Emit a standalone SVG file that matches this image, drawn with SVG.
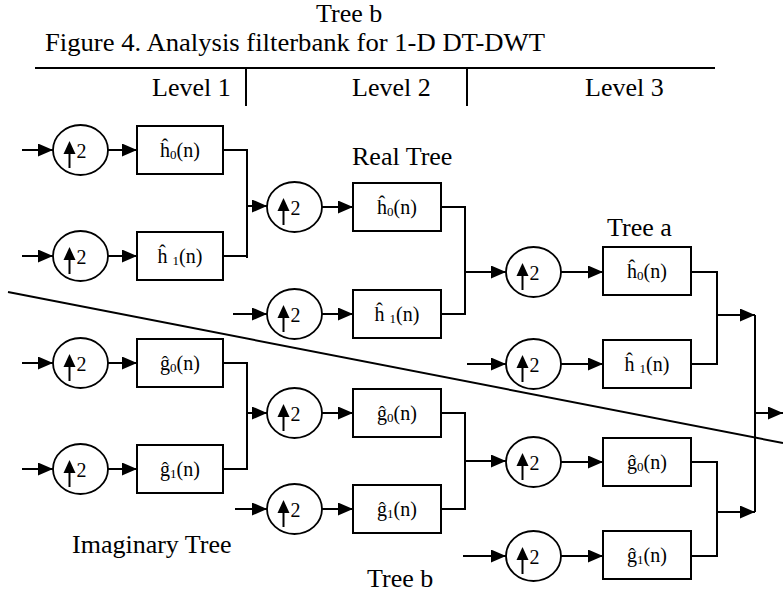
<svg xmlns="http://www.w3.org/2000/svg" width="783" height="594" viewBox="0 0 783 594">
  <style>
    text { font-family: "Liberation Serif", "Times New Roman", serif; fill: #000; }
    .title { font-size: 26px; }
    .lbl { font-size: 20px; text-anchor: middle; }
    .sub { font-size: 13px; }
    .two { font-size: 20px; }
    .box { fill: #fff; stroke: #000; stroke-width: 2; }
    .circ { fill: #fff; stroke: #000; stroke-width: 1.8; }
    .wire { fill: none; stroke: #000; stroke-width: 2; }
    .arr { fill: none; stroke: #000; stroke-width: 2; marker-end: url(#head); }
    .up { stroke: #000; stroke-width: 2; }
  </style>
  <defs>
    <marker id="head" markerUnits="userSpaceOnUse" markerWidth="16" markerHeight="14" refX="15" refY="6.5" orient="auto">
      <path d="M0,0 L15,6.5 L0,13 Z" fill="#000"/>
    </marker>
    <!-- upsampler symbol: ellipse, up arrow and the factor 2 -->
    <g id="ups">
      <ellipse class="circ" cx="0" cy="0" rx="27.5" ry="25"/>
      <line class="up" x1="-11" y1="18" x2="-11" y2="2"/>
      <path d="M-17,4 L-11,-9 L-5,4 Z" fill="#000"/>
      <text class="two" x="-4" y="8">2</text>
    </g>
  </defs>

  <!-- caption and level header -->
  <g id="header">
    <text class="title" x="316" y="22">Tree b</text>
    <text class="title" x="45" y="51" textLength="500" lengthAdjust="spacingAndGlyphs">Figure 4. Analysis filterbank for 1-D DT-DWT</text>
    <line class="wire" x1="35" y1="68" x2="715" y2="68"/>
    <line class="wire" x1="246" y1="68" x2="246" y2="106"/>
    <line class="wire" x1="467" y1="68" x2="467" y2="106"/>
    <text class="title" x="152" y="96">Level 1</text>
    <text class="title" x="352" y="96">Level 2</text>
    <text class="title" x="585" y="96">Level 3</text>
  </g>

  <!-- tree labels -->
  <g id="labels">
    <text class="title" x="352" y="165">Real Tree</text>
    <text class="title" x="607" y="236">Tree a</text>
    <text class="title" x="72" y="553">Imaginary Tree</text>
    <text class="title" x="367" y="587">Tree b</text>
  </g>

  <!-- divider between the two trees -->
  <line id="divider" class="wire" x1="8" y1="292" x2="783" y2="443"/>

  <!-- connectors -->
  <g id="connectors">
    <!-- level 1 inputs -->
    <path class="arr" d="M22,150 H53"/>
    <path class="arr" d="M22,256 H53"/>
    <path class="arr" d="M22,363 H53"/>
    <path class="arr" d="M22,469 H53"/>
    <!-- upsampler to filter, level 1 -->
    <path class="arr" d="M108,150 H137"/>
    <path class="arr" d="M108,256 H137"/>
    <path class="arr" d="M108,363 H137"/>
    <path class="arr" d="M108,469 H137"/>
    <!-- level 1 sums -->
    <path class="wire" d="M223,150 H247 M223,256 H247 M247,149 V258"/>
    <path class="arr" d="M247,206 H267"/>
    <path class="wire" d="M223,363 H247 M223,469 H247 M247,362 V470"/>
    <path class="arr" d="M247,413 H267"/>
    <!-- level 2 extra inputs -->
    <path class="arr" d="M233,314 H267"/>
    <path class="arr" d="M235,509 H267"/>
    <!-- upsampler to filter, level 2 -->
    <path class="arr" d="M322,207 H353"/>
    <path class="arr" d="M322,314 H353"/>
    <path class="arr" d="M322,413 H353"/>
    <path class="arr" d="M322,509 H353"/>
    <!-- level 2 sums -->
    <path class="wire" d="M441,207 H465 M441,314 H465 M465,206 V315"/>
    <path class="arr" d="M465,272 H506"/>
    <path class="wire" d="M441,413 H465 M441,509 H465 M465,412 V510"/>
    <path class="arr" d="M465,461 H506"/>
    <!-- level 3 extra inputs -->
    <path class="arr" d="M467,364 H506"/>
    <path class="arr" d="M463,556 H506"/>
    <!-- upsampler to filter, level 3 -->
    <path class="arr" d="M561,272 H603"/>
    <path class="arr" d="M561,364 H603"/>
    <path class="arr" d="M561,462 H603"/>
    <path class="arr" d="M561,556 H603"/>
    <!-- level 3 sums -->
    <path class="wire" d="M691,272 H717 M691,364 H717 M717,271 V365"/>
    <path class="arr" d="M717,315 H755"/>
    <path class="wire" d="M691,462 H717 M691,556 H717 M717,461 V557"/>
    <path class="arr" d="M717,512 H755"/>
    <!-- final combine -->
    <path class="wire" d="M755,315 V512"/>
    <path class="arr" d="M755,413 H783"/>
  </g>

  <!-- level 1 nodes -->
  <g id="u1a"><use href="#ups" x="80.5" y="150"/></g>
  <g id="f1a"><rect class="box" x="137" y="126" width="86" height="48"/><text class="lbl" x="180" y="157">ĥ<tspan class="sub" dy="2">0</tspan><tspan dy="-2">(n)</tspan></text></g>
  <g id="u1b"><use href="#ups" x="80.5" y="256"/></g>
  <g id="f1b"><rect class="box" x="137" y="232" width="86" height="48"/><text class="lbl" x="180" y="263">ĥ <tspan class="sub" dy="2">1</tspan><tspan dy="-2">(n)</tspan></text></g>
  <g id="u1c"><use href="#ups" x="80.5" y="363"/></g>
  <g id="f1c"><rect class="box" x="137" y="339" width="86" height="48"/><text class="lbl" x="180" y="370">ĝ<tspan class="sub" dy="2">0</tspan><tspan dy="-2">(n)</tspan></text></g>
  <g id="u1d"><use href="#ups" x="80.5" y="469"/></g>
  <g id="f1d"><rect class="box" x="137" y="445" width="86" height="48"/><text class="lbl" x="180" y="476">ĝ<tspan class="sub" dy="2">1</tspan><tspan dy="-2">(n)</tspan></text></g>

  <!-- level 2 nodes -->
  <g id="u2a"><use href="#ups" x="294.5" y="207"/></g>
  <g id="f2a"><rect class="box" x="353" y="183" width="88" height="48"/><text class="lbl" x="397" y="214">ĥ<tspan class="sub" dy="2">0</tspan><tspan dy="-2">(n)</tspan></text></g>
  <g id="u2b"><use href="#ups" x="294.5" y="314"/></g>
  <g id="f2b"><rect class="box" x="353" y="290" width="88" height="48"/><text class="lbl" x="397" y="321">ĥ <tspan class="sub" dy="2">1</tspan><tspan dy="-2">(n)</tspan></text></g>
  <g id="u2c"><use href="#ups" x="294.5" y="413"/></g>
  <g id="f2c"><rect class="box" x="353" y="389" width="88" height="48"/><text class="lbl" x="397" y="420">ĝ<tspan class="sub" dy="2">0</tspan><tspan dy="-2">(n)</tspan></text></g>
  <g id="u2d"><use href="#ups" x="294.5" y="509"/></g>
  <g id="f2d"><rect class="box" x="353" y="485" width="88" height="48"/><text class="lbl" x="397" y="516">ĝ<tspan class="sub" dy="2">1</tspan><tspan dy="-2">(n)</tspan></text></g>

  <!-- level 3 nodes -->
  <g id="u3a"><use href="#ups" x="533.5" y="272"/></g>
  <g id="f3a"><rect class="box" x="603" y="247" width="88" height="48"/><text class="lbl" x="647" y="278">ĥ<tspan class="sub" dy="2">0</tspan><tspan dy="-2">(n)</tspan></text></g>
  <g id="u3b"><use href="#ups" x="533.5" y="364"/></g>
  <g id="f3b"><rect class="box" x="603" y="340" width="88" height="48"/><text class="lbl" x="647" y="371">ĥ <tspan class="sub" dy="2">1</tspan><tspan dy="-2">(n)</tspan></text></g>
  <g id="u3c"><use href="#ups" x="533.5" y="462"/></g>
  <g id="f3c"><rect class="box" x="603" y="438" width="88" height="48"/><text class="lbl" x="647" y="469">ĝ<tspan class="sub" dy="2">0</tspan><tspan dy="-2">(n)</tspan></text></g>
  <g id="u3d"><use href="#ups" x="533.5" y="556"/></g>
  <g id="f3d"><rect class="box" x="603" y="531" width="88" height="48"/><text class="lbl" x="647" y="562">ĝ<tspan class="sub" dy="2">1</tspan><tspan dy="-2">(n)</tspan></text></g>
</svg>
